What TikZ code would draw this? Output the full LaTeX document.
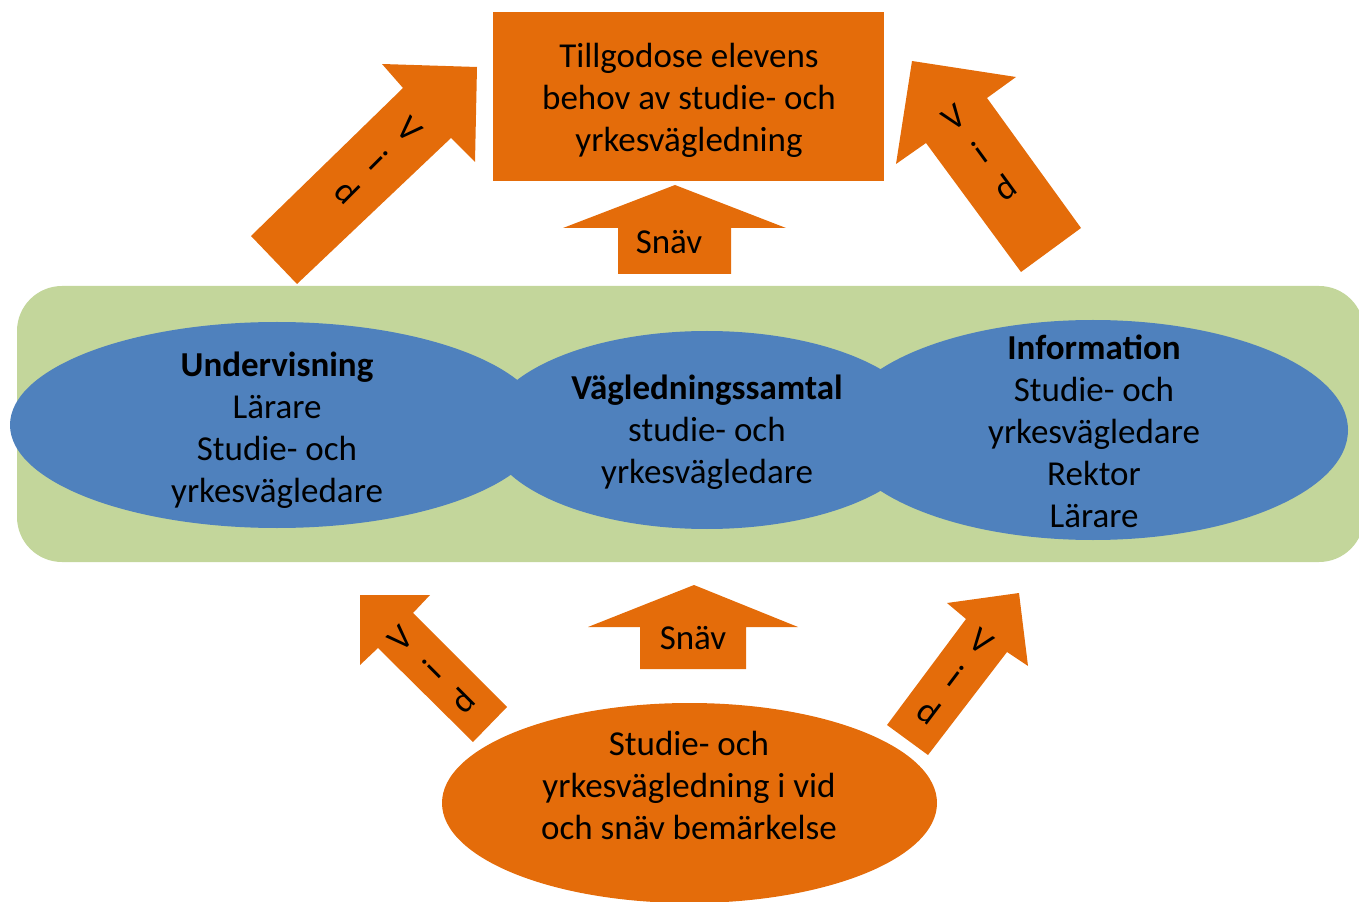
\documentclass[tikz,border=0pt]{standalone}
\usepackage{fontspec}
\setmainfont{Carlito}
\definecolor{orng}{HTML}{E46C0A}
\definecolor{grn}{HTML}{C3D69B}
\definecolor{blu}{HTML}{4F81BD}
\tikzset{
  lbl/.style={align=center,inner sep=0pt,font=\fontsize{10.5}{12.6}\selectfont},
  vid/.style={lbl,font=\fontsize{10.5}{13.2}\selectfont}
}
\begin{document}
\begin{tikzpicture}[x=0.3pt,y=-0.3pt]
\useasboundingbox (0,0) rectangle (1359,902);
%green band
\fill[grn,rounded corners=13.5pt](17,286)rectangle(1364,562);
%blue ellipses
\fill[blu](277,425) ellipse [x radius=267,y radius=103];
\fill[blu](707,430) ellipse [x radius=220,y radius=99];
\fill[blu](1093,430) ellipse [x radius=255,y radius=110];
%bottom ellipse
\fill[orng](689.5,803) ellipse [x radius=247.5,y radius=100];
%goal box
\node[fill=orng,minimum width=117.3pt,minimum height=50.7pt](goal)at(688.5,96.5){};
\node[lbl](goaltext)at(689,100.5){Tillgodose elevens\\behov av studie- och\\yrkesvägledning};
%wide arrows
\fill[orng](251,236)--(403,88)--(382,64)--(477,67)--(475,162)--(451,138)--(297,284)--cycle;
\fill[orng](912,61)--(1016,77)--(987,98)--(1081,228)--(1021,272)--(926,143)--(896,164)--cycle;
\fill[orng](360,595)--(430,595)--(413,613)--(507,707)--(473,742)--(378,648)--(360,665)--cycle;
\fill[orng](1019,593)--(1028,666)--(1007,652)--(928,755)--(887,725)--(966,619)--(947,603)--cycle;
%narrow arrows
\fill[orng](618,274)--(618,228)--(563,228)--(675,185)--(786,228)--(731,228)--(731,274)--cycle;
\fill[orng](640,669)--(640,627)--(588,627)--(694,585)--(798,627)--(746,627)--(746,669)--cycle;
%labels
\node[lbl](teach)at(277,430.5){\textbf{Undervisning}\\Lärare\\Studie- och\\yrkesvägledare};
\node[lbl](talk)at(707,432.5){\textbf{Vägledningssamtal}\\studie- och\\yrkesvägledare};
\node[lbl](info)at(1094,431.5){\textbf{Information}\\Studie- och\\yrkesvägledare\\Rektor\\Lärare};
\node[lbl](base)at(689,785){Studie- och\\yrkesvägledning i vid\\och snäv bemärkelse};
\node[lbl](narrowtop)at(669,242){Snäv};
\node[lbl](narrowbot)at(693,638){Snäv};
\node[vid,rotate=-45](widetl)at(378,161){V\\i\\d};
\node[vid,rotate=36](widetr)at(980,153){V\\i\\d};
\node[vid,rotate=45](widebl)at(432,670){V\\i\\d};
\node[vid,rotate=-37](widebr)at(955,677){V\\i\\d};
\end{tikzpicture}
\end{document}
